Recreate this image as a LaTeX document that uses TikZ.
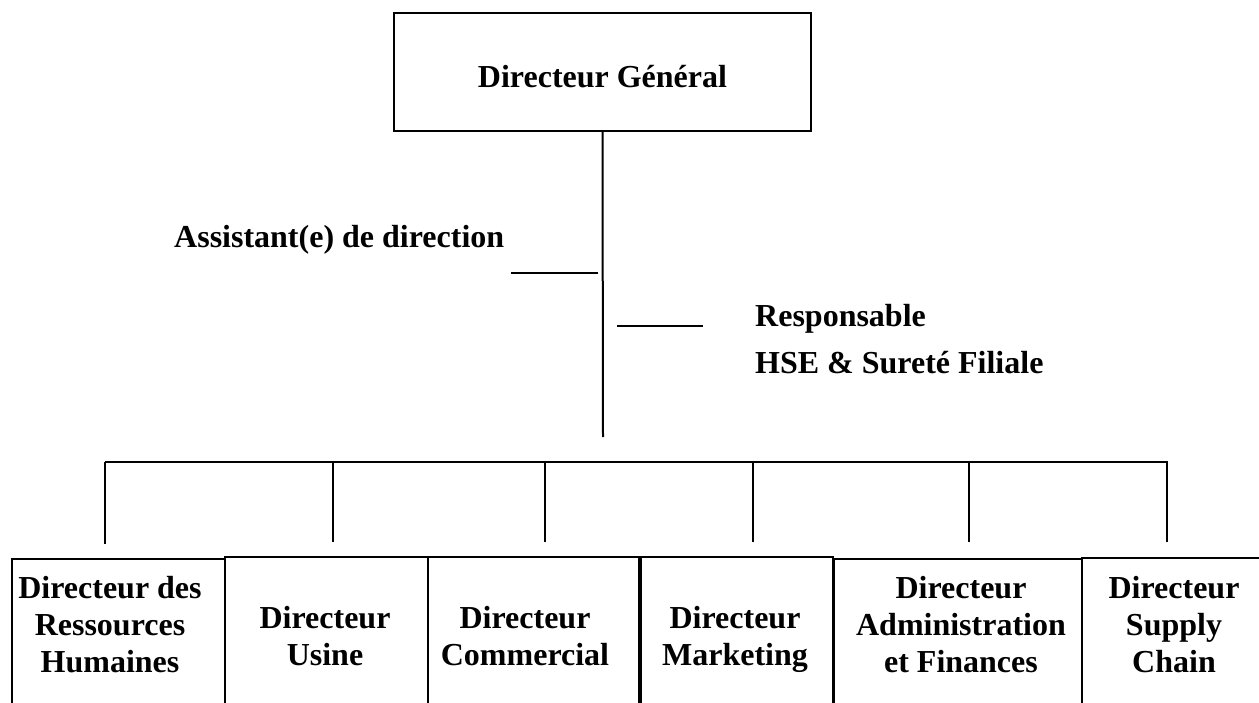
\documentclass[tikz,border=0pt]{standalone}
\usepackage{fontspec}
\setmainfont{Liberation Serif}
\begin{document}
\begin{tikzpicture}[x=1pt,y=-1pt,
  every node/.style={font=\fontsize{32}{37}\selectfont\bfseries, inner sep=0pt},
  orgbox/.style={draw, line width=2pt, anchor=north west, minimum height=220pt},
  txt/.style={align=center, anchor=north},
  conn/.style={line width=2pt}]
\useasboundingbox (0,0) rectangle (1259,702);
% top box
\node[draw, line width=2pt, minimum width=417pt, minimum height=118pt,
      text height=30pt, text depth=0pt] (dg) at (602.5,72) {Directeur Général};
\coordinate (trunkEnd) at (603,437);
\draw[conn] (dg.south) -- (trunkEnd);
% side staff
\node[anchor=base west] (asst) at (174,247) {Assistant(e) de direction};
\coordinate (aL) at (511,273);
\coordinate (aR) at (598,273);
\draw[conn] (aL) -- (aR);
\node[anchor=base west] (resp) at (755,326) {Responsable};
\node[anchor=base west] (hse) at (755,373) {HSE \& Sureté Filiale};
\coordinate (rL) at (617,326);
\coordinate (rR) at (703,326);
\draw[conn] (rL) -- (rR);
% bus
\coordinate (busL) at (105,462);
\coordinate (busR) at (1168,462);
\draw[conn] (busL) -- (busR);
\foreach \x/\e [count=\i] in {105/544,333/542,545/542,753/542,969/542,1167/542}{
  \coordinate (d\i top) at (\x,462);
  \coordinate (d\i bot) at (\x,\e);
  \draw[conn] (d\i top) -- (d\i bot);
}
% bottom boxes
\node[orgbox, minimum width=213pt] (b1) at (11,558) {};
\node[orgbox, minimum width=203pt] (b2) at (224,556) {};
\node[orgbox, minimum width=211pt] (b3) at (427,556) {};
\node[orgbox, minimum width=192pt] (b4) at (639.5,556) {};
\node[orgbox, minimum width=248pt] (b5) at (833,558) {};
\node[orgbox, minimum width=220pt] (b6) at (1081,557) {};
\node[txt] (t1) at (110,576.4) {Directeur des\\Ressources\\Humaines};
\node[txt] (t2) at (325,606.4) {Directeur\\Usine};
\node[txt] (t3) at (525,606.4) {Directeur\\Commercial};
\node[txt] (t4) at (735,606.4) {Directeur\\Marketing};
\node[txt] (t5) at (961,576.4) {Directeur\\Administration\\et Finances};
\node[txt] (t6) at (1174,576.4) {Directeur\\Supply\\Chain};
\end{tikzpicture}
\end{document}
